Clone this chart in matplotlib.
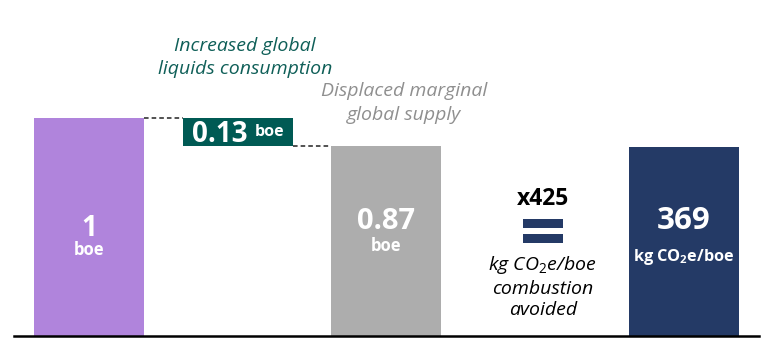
import matplotlib.pyplot as plt
from matplotlib.patches import Rectangle

plt.rcParams['font.family'] = ['Open Sans', 'DejaVu Sans']
plt.rcParams['mathtext.fontset'] = 'custom'
plt.rcParams['mathtext.rm'] = 'Open Sans'
plt.rcParams['mathtext.it'] = 'Open Sans:italic'
plt.rcParams['mathtext.bf'] = 'Open Sans:bold'

# waterfall values (boe)
start_boe = 1.0
consumption_boe = 0.13
displaced_boe = 0.87
factor = 425          # kg CO2e per boe of combustion
avoided_kg = 369

purple = '#B084DC'
teal = '#005A54'
grey = '#ADADAD'
navy = '#243A66'

fig = plt.figure(figsize=(7.68, 3.46), dpi=100)
ax = fig.add_axes([0, 0, 1, 1])
ax.set_xlim(-0.598, 4.565)
ax.set_ylim(-0.0435, 1.540)
ax.axis('off')

w = 0.74
pos = [0, 1, 2, 4]

ax.bar(pos[0], start_boe, width=w, color=purple)
ax.bar(pos[1], consumption_boe, bottom=start_boe - consumption_boe, width=w, color=teal)
ax.bar(pos[2], displaced_boe, width=w, color=grey)
ax.bar(pos[3], avoided_kg / factor, width=w, color=navy)

# connector lines
ax.plot([pos[0] + w / 2, pos[1] - w / 2], [start_boe, start_boe],
        ls=(0, (3, 2)), color='#222222', lw=1.1)
ax.plot([pos[1] + w / 2, pos[2] - w / 2], [displaced_boe, displaced_boe],
        ls=(0, (3, 2)), color='#222222', lw=1.1)

# baseline
ax.axhline(0, xmin=14 / 768, xmax=759 / 768, color='black', lw=1.8)

# labels inside bars
ax.text(pos[0], 0.496, f'{start_boe:g}', ha='center', va='center',
        color='white', fontsize=20, fontweight='bold')
ax.text(pos[0], 0.396, 'boe', ha='center', va='center',
        color='white', fontsize=12, fontweight='bold')
ax.text(pos[1] + 0.07, start_boe - consumption_boe / 2 - 0.01, f'{consumption_boe:.2f}',
        ha='right', va='center', color='white', fontsize=20, fontweight='bold')
ax.text(pos[1] + 0.115, start_boe - consumption_boe / 2, 'boe',
        ha='left', va='center', color='white', fontsize=11.5, fontweight='bold')
ax.text(pos[2], 0.524, f'{displaced_boe:.2f}', ha='center', va='center',
        color='white', fontsize=21, fontweight='bold')
ax.text(pos[2], 0.414, 'boe', ha='center', va='center',
        color='white', fontsize=12, fontweight='bold')
ax.text(pos[3], 0.529, f'{avoided_kg}', ha='center', va='center',
        color='white', fontsize=22.5, fontweight='bold')
ax.text(pos[3], 0.364, r'kg CO$_\mathbf{2}$e/boe', ha='center', va='center',
        color='white', fontsize=11.7, fontweight='bold')

# annotations above
ax.text(1.05, 1.277, 'Increased global\nliquids consumption', ha='center', va='center',
        color='#0F5F58', fontsize=14, style='italic', linespacing=1.4)
ax.text(2.12, 1.068, 'Displaced marginal\nglobal supply', ha='center', va='center',
        color='#8F8F8F', fontsize=14, style='italic', linespacing=1.4)

# multiplier column
mx = 3.05
ax.text(mx, 0.629, f'x{factor}', ha='center', va='center',
        color='black', fontsize=16.5, fontweight='bold')
for y0 in (0.428, 0.497):
    ax.add_patch(Rectangle((mx - 0.13, y0), 0.27, 0.043, color=navy, lw=0))
ax.text(mx, 0.227, r'kg CO$_\mathit{2}$e/boe' + '\ncombustion\navoided',
        ha='center', va='center', color='black', fontsize=14, style='italic',
        linespacing=1.25)

fig.savefig('out.png', dpi=100)
